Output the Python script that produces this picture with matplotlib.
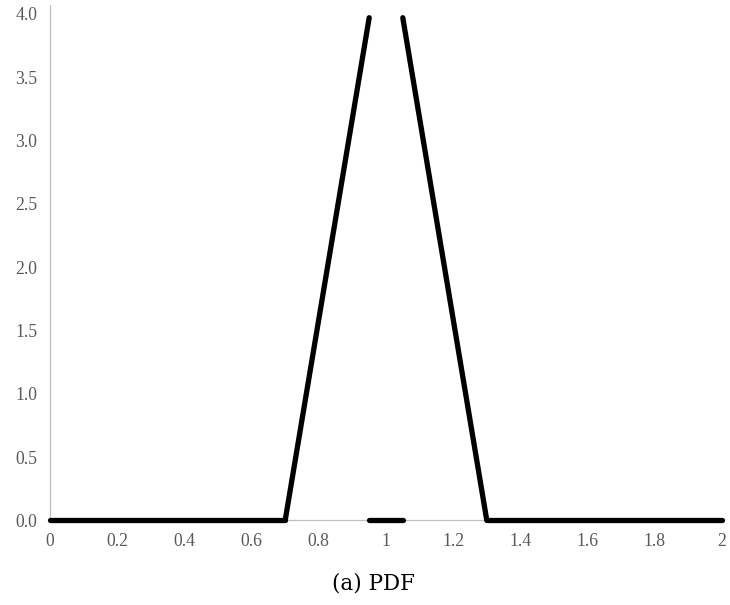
import matplotlib.pyplot as plt
import numpy as np

# piecewise segments of the PDF (x endpoints, y endpoints)
seg_x = [[0.0, 0.7], [0.7, 0.95], [0.95, 1.05], [1.05, 1.3], [1.3, 2.0]]
seg_y = [[0.0, 0.0], [0.0, 3.97], [0.0, 0.0], [3.97, 0.0], [0.0, 0.0]]

x_ticks = [0, 0.2, 0.4, 0.6, 0.8, 1, 1.2, 1.4, 1.6, 1.8, 2]
x_labels = ["0", "0.2", "0.4", "0.6", "0.8", "1", "1.2", "1.4", "1.6", "1.8", "2"]
y_ticks = [0, 0.5, 1.0, 1.5, 2.0, 2.5, 3.0, 3.5, 4.0]

fig = plt.figure(figsize=(7.3, 6.05), dpi=100)
ax = fig.add_axes([0.0685, 0.14, 0.9205, 0.837])

for xs, ys in zip(seg_x, seg_y):
    ax.plot(xs, ys, color="black", lw=3.8, solid_capstyle="round",
            zorder=3, clip_on=False)

ax.set_xlim(0, 2)
ax.set_ylim(0, 4.0)
ax.set_xticks(x_ticks)
ax.set_xticklabels(x_labels)
ax.set_yticks(y_ticks)
ax.set_yticklabels([f"{v:.1f}" for v in y_ticks])

for lab in ax.get_xticklabels() + ax.get_yticklabels():
    lab.set_family("Liberation Serif")
    lab.set_fontsize(12.7)
    lab.set_color("#595959")
ax.tick_params(axis="y", length=0, pad=9)
ax.tick_params(axis="x", length=0, pad=9)

for s in ["top", "right"]:
    ax.spines[s].set_visible(False)
ax.spines["left"].set_color("#bfbfbf")
ax.spines["bottom"].set_color("#bfbfbf")
ax.spines["left"].set_linewidth(0.9)
ax.spines["bottom"].set_linewidth(0.9)
ax.spines["left"].set_bounds(0, 4.07)
for sp in ax.spines.values():
    sp.set_clip_on(False)

fig.text(0.512, 0.035, "(a) PDF", ha="center", va="center",
         family="DejaVu Serif", fontsize=15.5)

fig.savefig("out.png", dpi=100)
